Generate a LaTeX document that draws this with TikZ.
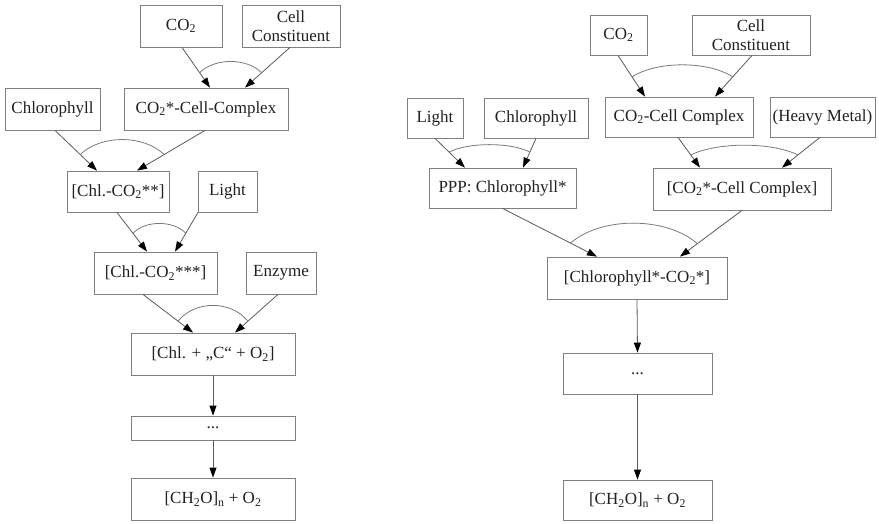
\documentclass[tikz,border=0pt]{standalone}
\usepackage{fontspec}
\setmainfont{Liberation Serif}
\usetikzlibrary{arrows.meta}
\definecolor{boxgray}{HTML}{808080}
\definecolor{linegray}{HTML}{5A5A5A}
\definecolor{arcgray}{HTML}{7A7A7A}
\definecolor{txt}{HTML}{202020}
\tikzset{
  box/.style={draw=boxgray, line width=0.8pt, inner sep=0pt, align=center,
    text=txt, font=\fontsize{17}{19}\selectfont},
  arr/.style={draw=linegray, line width=0.8pt,
    -{Triangle[length=10pt,width=7pt,color=black]}},
  arcl/.style={draw=arcgray, line width=0.8pt}
}
\newcommand{\sub}[1]{\textsubscript{#1}}
\begin{document}
\begin{tikzpicture}[x=1pt,y=-1pt]
\useasboundingbox (0,0) rectangle (879,523);
% ---------- left diagram ----------
\node[box, minimum width=82pt, minimum height=42pt] (lco2) at (181,26) {CO\sub{2}};
\node[box, minimum width=98pt, minimum height=42pt] (lcell) at (291,26) {Cell\\Constituent};
\node[box, minimum width=95pt, minimum height=42pt] (lchl) at (52.5,109) {Chlorophyll};
\node[box, minimum width=164pt, minimum height=42pt] (lcplx) at (206,109) {CO\sub{2}*-Cell-Complex};
\node[box, minimum width=102pt, minimum height=41pt] (lchl2) at (118,191.5) {[Chl.-CO\sub{2}**]};
\node[box, minimum width=59pt, minimum height=41pt] (llight) at (227.5,191.5) {Light};
\node[box, minimum width=123pt, minimum height=42pt] (lchl3) at (155.5,273) {[Chl.-CO\sub{2}***]};
\node[box, minimum width=70pt, minimum height=42pt] (lenz) at (281,273) {Enzyme};
\node[box, minimum width=164pt, minimum height=42pt] (lchlc) at (213,354) {[Chl. + „C“ + O\sub{2}]};
\node[box, minimum width=164pt, minimum height=24pt] (ldots) at (213,428) {...};
\node[box, minimum width=164pt, minimum height=42pt] (lch2o) at (213,499) {[CH\sub{2}O]\sub{n} + O\sub{2}};

\draw[arr] ([xshift=1pt]lco2.south) -- coordinate[pos=0.63] (la1) ([xshift=4pt]lcplx.north);
\draw[arr] ([xshift=-1pt]lcell.south) -- coordinate[pos=0.63] (la2) ([xshift=39pt]lcplx.north);
\draw[arcl] (la1) .. controls +(15,-15) and +(-15,-15) .. (la2);

\draw[arr] ([xshift=2.5pt]lchl.south) -- coordinate[pos=0.6] (lb1) ([xshift=-21pt]lchl2.north);
\draw[arr] ([xshift=-1pt]lcplx.south) -- coordinate[pos=0.6] (lb2) ([xshift=19pt]lchl2.north);
\draw[arcl] (lb1) .. controls +(21,-20) and +(-21,-20) .. (lb2);

\draw[arr] ([xshift=-1pt]lchl2.south) -- coordinate[pos=0.53] (lc1) ([xshift=-8.5pt]lchl3.north);
\draw[arr] ([xshift=-29.5pt]llight.south) -- coordinate[pos=0.53] (lc2) ([xshift=19.5pt]lchl3.north);
\draw[arcl] (lc1) .. controls +(13,-13) and +(-13,-13) .. (lc2);

\draw[arr] ([xshift=-12.5pt]lchl3.south) -- coordinate[pos=0.7] (ld1) ([xshift=-20pt]lchlc.north);
\draw[arr] ([xshift=-3pt]lenz.south) -- coordinate[pos=0.7] (ld2) ([xshift=22pt]lchlc.north);
\draw[arcl] (ld1) .. controls +(17,-21) and +(-17,-21) .. (ld2);

\draw[arr] (lchlc.south) -- (ldots.north);
\draw[arr] (ldots.south) -- (lch2o.north);

% ---------- right diagram ----------
\node[box, minimum width=57pt, minimum height=40pt] (rco2) at (618.5,35) {CO\sub{2}};
\node[box, minimum width=118pt, minimum height=40pt] (rcell) at (751,35) {Cell\\Constituent};
\node[box, minimum width=56pt, minimum height=40pt] (rlight) at (435,118) {Light};
\node[box, minimum width=104pt, minimum height=40pt] (rchl) at (536,118) {Chlorophyll};
\node[box, minimum width=148pt, minimum height=40pt] (rcplx) at (679,117) {CO\sub{2}-Cell Complex};
\node[box, minimum width=105pt, minimum height=40pt] (rhm) at (822.5,117) {(Heavy Metal)};
\node[box, minimum width=147pt, minimum height=40pt] (rppp) at (502.5,188) {PPP: Chlorophyll*};
\node[box, minimum width=178pt, minimum height=42pt] (rcplx2) at (742,189) {[CO\sub{2}*-Cell Complex]};
\node[box, minimum width=180pt, minimum height=42pt] (rchlco) at (637,278) {[Chlorophyll*-CO\sub{2}*]};
\node[box, minimum width=149pt, minimum height=41pt] (rdots) at (637.5,373.5) {...};
\node[box, minimum width=149pt, minimum height=40pt] (rch2o) at (637.5,500) {[CH\sub{2}O]\sub{n} + O\sub{2}};

\draw[arr] ([xshift=-0.5pt]rco2.south) -- coordinate[pos=0.52] (ra1) ([xshift=-34pt]rcplx.north);
\draw[arr] ([xshift=1pt]rcell.south) -- coordinate[pos=0.52] (ra2) ([xshift=36pt]rcplx.north);
\draw[arcl] (ra1) .. controls +(25,-16) and +(-25,-16) .. (ra2);

\draw[arr] (rlight.south) -- coordinate[pos=0.47] (rb1) ([xshift=-37.5pt]rppp.north);
\draw[arr] (rchl.south) -- coordinate[pos=0.47] (rb2) ([xshift=20.5pt]rppp.north);
\draw[arcl] (rb1) .. controls +(19,-10) and +(-19,-10) .. (rb2);

\draw[arr] ([xshift=-1pt]rcplx.south) -- coordinate[pos=0.58] (rc1) ([xshift=-42pt]rcplx2.north);
\draw[arr] ([xshift=-2.5pt]rhm.south) -- coordinate[pos=0.58] (rc2) ([xshift=40pt]rcplx2.north);
\draw[arcl] (rc1) .. controls +(27,-13) and +(-27,-13) .. (rc2);

\draw[arr] (rppp.south) -- coordinate[pos=0.72] (rd1) ([xshift=-40pt]rchlco.north);
\draw[arr] (rcplx2.south) -- coordinate[pos=0.72] (rd2) ([xshift=43pt]rchlco.north);
\draw[arcl] (rd1) .. controls +(31,-27) and +(-31,-27) .. (rd2);

\draw[arr] (rchlco.south) -- (rdots.north);
\draw[arr] (rdots.south) -- (rch2o.north);
\end{tikzpicture}
\end{document}
